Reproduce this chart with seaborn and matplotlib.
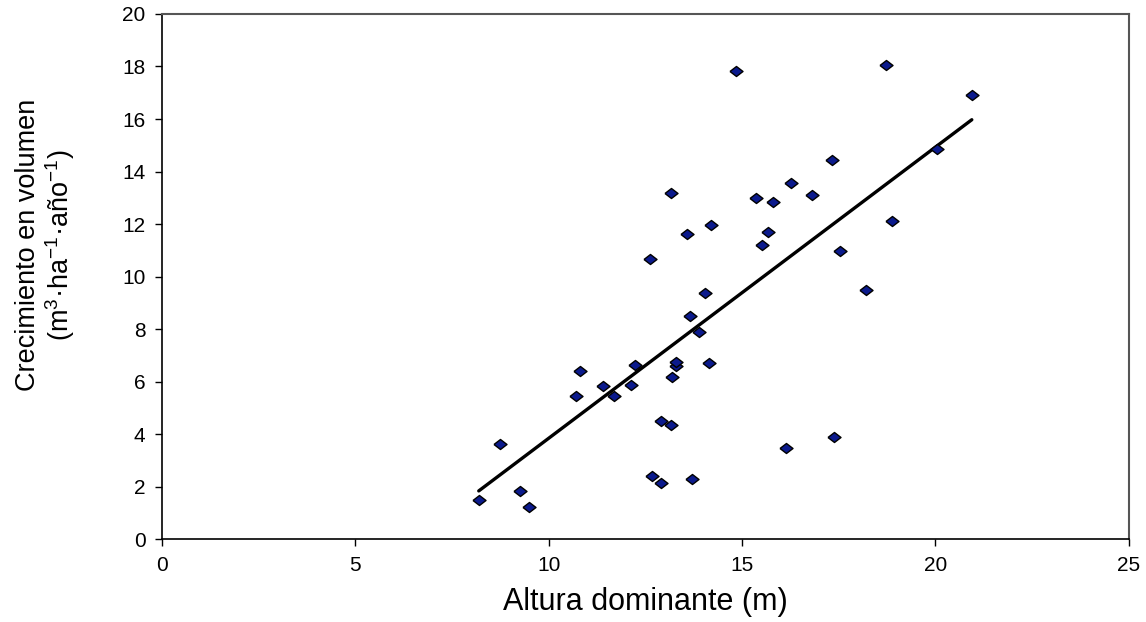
import numpy as np
import pandas as pd
import matplotlib
matplotlib.use("Agg")
import matplotlib.pyplot as plt
import seaborn as sns

# -------------------------------
# Data
# -------------------------------
altura = [8.19, 8.74, 9.26, 9.48, 10.71, 10.81, 11.40, 11.69, 12.12, 12.24,
          12.61, 12.68, 12.90, 12.91, 13.16, 13.16, 13.20, 13.28, 13.30, 13.57,
          13.66, 13.71, 13.88, 14.03, 14.15, 14.19, 14.84, 15.36, 15.51, 15.67,
          15.80, 16.13, 16.26, 16.80, 17.32, 17.38, 17.52, 18.21, 18.72, 18.87,
          20.03, 20.94]
crecimiento = [1.47, 3.61, 1.83, 1.22, 5.44, 6.40, 5.82, 5.45, 5.85, 6.62,
               10.68, 2.40, 2.15, 4.51, 13.19, 4.34, 6.17, 6.60, 6.74, 11.62,
               8.48, 2.30, 7.87, 9.36, 6.72, 11.96, 17.83, 12.98, 11.20, 11.68,
               12.83, 3.45, 13.55, 13.12, 14.43, 3.90, 10.98, 9.49, 18.07, 12.10,
               14.86, 16.93]

# linear trend line shown in the chart
trend_slope = 1.109
trend_intercept = -7.25

x_ticks = [0, 5, 10, 15, 20, 25]
y_ticks = [0, 2, 4, 6, 8, 10, 12, 14, 16, 18, 20]

df = pd.DataFrame({"altura": altura, "crecimiento": crecimiento})

x_line = np.array([min(altura), max(altura)])
trend = pd.DataFrame({"altura": x_line,
                      "crecimiento": trend_intercept + trend_slope * x_line})

# -------------------------------
# Style
# -------------------------------
sns.set_style("white")
plt.rcParams["font.family"] = ["Liberation Sans", "DejaVu Sans"]
plt.rcParams["mathtext.fontset"] = "custom"
plt.rcParams["mathtext.rm"] = "Liberation Sans"
plt.rcParams["mathtext.it"] = "Liberation Sans:italic"
plt.rcParams["text.color"] = "black"
plt.rcParams["axes.labelcolor"] = "black"
plt.rcParams["xtick.color"] = "black"
plt.rcParams["ytick.color"] = "black"

# slightly wide diamond, like the original markers
diamond = [(-1.3, 0), (0, 1), (1.3, 0), (0, -1), (-1.3, 0)]

fig = plt.figure(figsize=(11.46, 6.22), dpi=100)
ax = fig.add_axes([0.1414, 0.1334, 0.8436, 0.8441])

sns.lineplot(data=trend, x="altura", y="crecimiento", color="black",
             linewidth=2.4, ax=ax, zorder=2)
sns.scatterplot(data=df, x="altura", y="crecimiento", marker=diamond, s=88,
                color="#0b1a8c", edgecolor="black", linewidth=1.0,
                ax=ax, zorder=3)

ax.set_xlim(0, 25)
ax.set_ylim(0, 20)
ax.set_xticks(x_ticks)
ax.set_yticks(y_ticks)

ax.tick_params(axis="both", direction="out", length=5, width=1,
               color="black", labelcolor="black", labelsize=15,
               bottom=True, left=True)
ax.tick_params(axis="x", pad=7)
ax.tick_params(axis="y", pad=7)

for side in ["left", "bottom"]:
    ax.spines[side].set_color("black")
    ax.spines[side].set_linewidth(1.2)
for side in ["top", "right"]:
    ax.spines[side].set_color("#555555")
    ax.spines[side].set_linewidth(1.5)

ax.set_xlabel("Altura dominante (m)", fontsize=22, labelpad=9)
ax.set_ylabel("Crecimiento en volumen\n(m$^{3}$·ha$^{-1}$·año$^{-1}$)",
              fontsize=19.5, linespacing=1.1)
ax.yaxis.set_label_coords(-0.088, 0.56)

fig.savefig("out.png", dpi=100)
